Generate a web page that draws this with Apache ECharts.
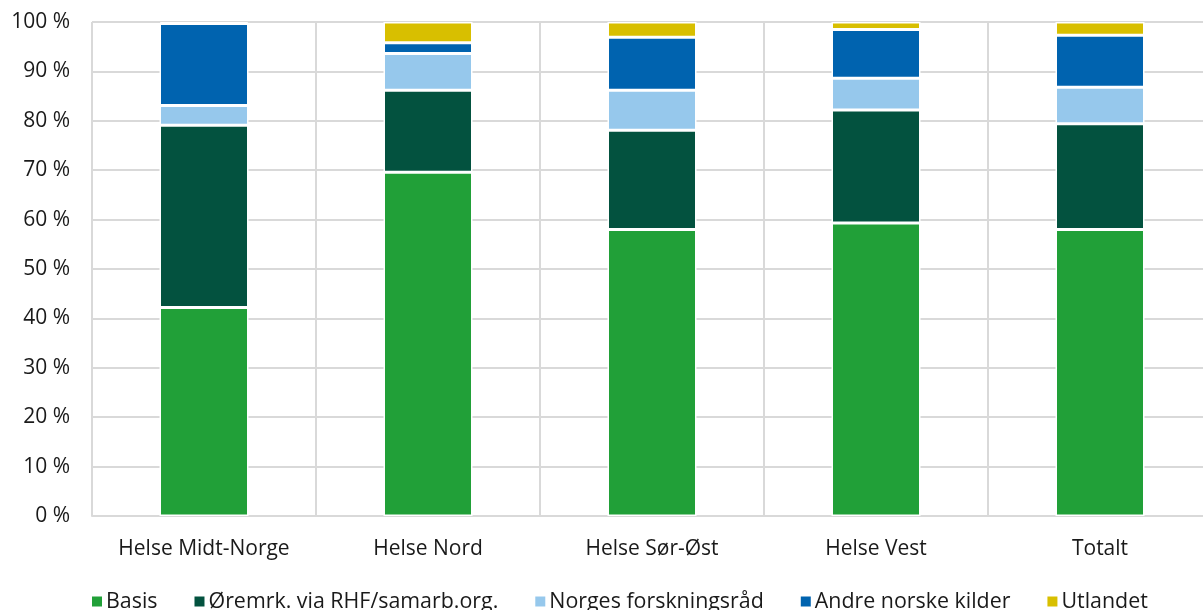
<!DOCTYPE html>
<html>
<head>
<meta charset="utf-8">
<script src="https://cdn.jsdelivr.net/npm/echarts@6/dist/echarts.min.js"></script>
<style>
html,body{margin:0;padding:0;background:#fff;}
#chart{width:1203px;height:610px;}
</style>
</head>
<body>
<div id="chart"></div>
<script>
const categories = ['Helse Midt-Norge', 'Helse Nord', 'Helse Sør-Øst', 'Helse Vest', 'Totalt'];
const basis = [42.2, 69.6, 58.0, 59.3, 58.0];
const oremrk = [36.9, 16.6, 20.1, 22.9, 21.4];
const norges = [4.0, 7.4, 8.1, 6.4, 7.4];
const andre = [16.6, 2.2, 10.7, 9.9, 10.5];
const utlandet = [0.3, 4.2, 3.1, 1.5, 2.7];
const yTicks = [0, 10, 20, 30, 40, 50, 60, 70, 80, 90, 100];

const seriesNames = ['Basis', 'Øremrk. via RHF/samarb.org.', 'Norges forskningsråd', 'Andre norske kilder', 'Utlandet'];
const seriesData = [basis, oremrk, norges, andre, utlandet];
const colors = ['#21a038', '#03523f', '#96c8ec', '#0063af', '#d8bf00'];

const font = "'Open Sans', 'Noto Sans', sans-serif";
const chart = echarts.init(document.getElementById('chart'), null, {renderer: 'canvas'});
chart.setOption({
  animation: false,
  color: colors,
  grid: {left: 92, width: 1120, top: 22, height: 494, containLabel: false, outerBoundsMode: 'none'},
  legend: {
    top: 586,
    left: 85,
    itemWidth: 12,
    itemHeight: 12,
    itemGap: 35,
    icon: 'rect',
    textStyle: {fontFamily: font, fontSize: 21.4, color: '#1a1a1a', padding: [0, 0, 0, -2]},
    data: seriesNames
  },
  xAxis: {
    type: 'category',
    data: categories,
    axisLine: {show: true, lineStyle: {color: '#d9d9d9', width: 2}},
    axisTick: {show: false},
    splitLine: {show: true, interval: 0, lineStyle: {color: '#d9d9d9', width: 2}},
    axisLabel: {fontFamily: font, fontSize: 21, color: '#1a1a1a', margin: 23, interval: 0}
  },
  yAxis: {
    type: 'value',
    min: 0, max: 100, interval: 10,
    axisLine: {show: false},
    axisTick: {show: false},
    splitLine: {show: true, lineStyle: {color: '#d9d9d9', width: 2}},
    axisLabel: {
      fontFamily: font, fontSize: 21, color: '#1a1a1a', margin: 22,
      formatter: v => yTicks.includes(v) ? v + ' %' : ''
    }
  },
  series: seriesNames.map((n, i) => ({
    name: n,
    type: 'bar',
    stack: 'total',
    barWidth: 89,
    data: seriesData[i],
    itemStyle: {color: colors[i], borderColor: '#ffffff', borderWidth: 1.5}
  }))
});
</script>
</body>
</html>
